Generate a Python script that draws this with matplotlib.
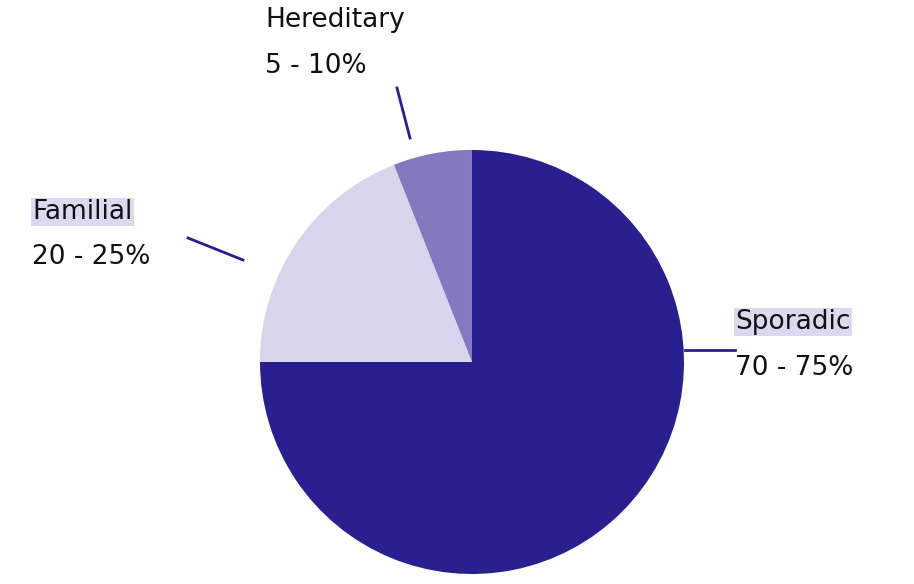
import matplotlib.pyplot as plt

labels = ["Sporadic", "Familial", "Hereditary"]
ranges = ["70 - 75%", "20 - 25%", "5 - 10%"]
values = [75, 19, 6]
colors = ["#2a1f8f", "#d8d4ec", "#8479be"]
explode = [0, 0.16, 0.09]

fig = plt.figure(figsize=(9.14, 5.84), dpi=100)
ax = fig.add_axes([0, 0, 1, 1])
ax.set_xlim(0, 914)
ax.set_ylim(0, 584)
ax.set_aspect("equal")
ax.axis("off")

H = 584
ax.pie(values, colors=colors, explode=explode, startangle=90, counterclock=False,
       center=(472, H - 362), radius=212, frame=True,
       wedgeprops=dict(linewidth=0))
ax.set_xlim(0, 914)
ax.set_ylim(0, 584)
ax.axis("off")

line_c = "#2a1f8f"
ax.plot([685, 735], [H - 350, H - 350], color=line_c, lw=2)
ax.plot([188, 243], [H - 238, H - 260], color=line_c, lw=2)
ax.plot([397, 410], [H - 88, H - 138], color=line_c, lw=2)

fs = 19
bg = dict(facecolor="#dcd8f0", edgecolor="none", pad=1)
# Sporadic
ax.text(735, H - 322, labels[0], fontsize=fs, va="center", ha="left", bbox=bg, color="#111")
ax.text(735, H - 368, ranges[0], fontsize=fs, va="center", ha="left", color="#111")
# Familial
ax.text(32, H - 212, labels[1], fontsize=fs, va="center", ha="left", bbox=bg, color="#111")
ax.text(32, H - 257, ranges[1], fontsize=fs, va="center", ha="left", color="#111")
# Hereditary
ax.text(265, H - 20, labels[2], fontsize=fs, va="center", ha="left", color="#111")
ax.text(265, H - 66, ranges[2], fontsize=fs, va="center", ha="left", color="#111")

fig.savefig("out.png", dpi=100)
